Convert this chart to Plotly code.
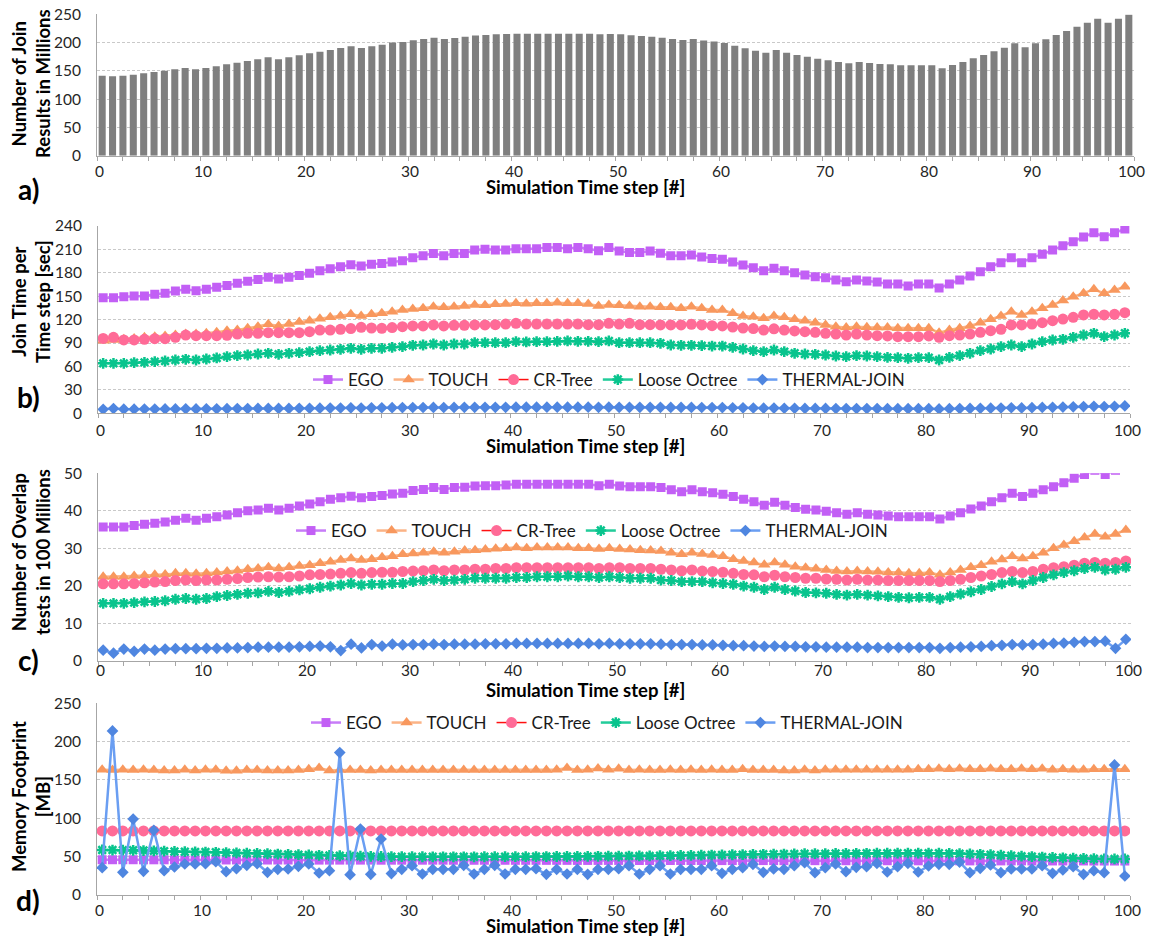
import plotly.graph_objects as go

# ---------------- data ----------------
steps = list(range(1, 101))  # simulation time steps (plotted centred in each unit slot)

join_results = [141.5, 140.3, 141.5, 143.3, 145.6, 148, 150.4, 152.7, 155, 152.7,
                155, 158, 161.6, 164.5, 167.5, 170.4, 174, 170.4, 174, 177.5,
                181, 184, 187, 190.4, 193.4, 190.4, 193.4, 196, 200, 201.2,
                204, 206.4, 208.7, 206.4, 208.1, 210.5, 212.3, 213.4, 214.6, 215.2,
                215.8, 215.8, 215.8, 215.8, 215.8, 215.8, 215.8, 215.8, 214.6, 215.2,
                214.6, 212.9, 211.7, 210.5, 208.7, 206.4, 204.6, 206.4, 203.5, 201.7,
                199.4, 194.6, 189.9, 185.7, 182.2, 186.9, 182.2, 178.1, 175.1, 171.6,
                168.6, 165.7, 163.3, 165.7, 163.9, 162.1, 161.6, 159.8, 159.8, 159.8,
                159.8, 154.5, 160.4, 165.7, 172.2, 178.1, 184.6, 191.0, 198.7, 191.6,
                198.7, 205.8, 213.4, 220.5, 228.1, 235.1, 242.3, 235.1, 242.3, 249.4]

# b) join time per time step [sec]
b_ego = [148.2, 148.2, 149.4, 150.3, 150.3, 152.4, 153.7, 156.7, 158.8, 157.1,
         158.8, 161.4, 163.9, 166.5, 169.1, 171.6, 174.2, 172.1, 174.2, 176.7,
         179.3, 182.7, 185.3, 187.9, 190.4, 188.7, 190.9, 192.1, 193.9, 195.6,
         199.4, 201.9, 204.9, 201.9, 204.9, 204.9, 209.2, 210.1, 209.2, 209.2,
         210.9, 210.9, 210.9, 212.6, 212.6, 210.9, 212.6, 210.9, 208.4, 212.6,
         208.0, 206.2, 206.2, 208.0, 205.0, 202.0, 202.0, 203.0, 200.3, 198.5,
         197.3, 193.9, 190.0, 186.6, 182.5, 185.8, 182.7, 180.2, 177.2, 175.1,
         173.8, 170.8, 168.7, 170.8, 169.5, 168.2, 165.7, 165.7, 163.1, 165.7,
         165.7, 160.5, 165.7, 170.8, 175.9, 181.5, 187.9, 193.0, 199.4, 193.0,
         199.4, 203.7, 209.2, 214.8, 219.9, 225.9, 231.4, 226.3, 231.4, 236.1]
b_touch = [93.0, 94.0, 94.8, 96.0, 97.4, 98.2, 99.0, 100.3, 101.6, 101.6,
           102.5, 103.8, 105.9, 106.7, 108.9, 111.0, 114.0, 111.9, 114.4, 117.0,
           118.7, 121.3, 123.0, 124.7, 126.8, 124.7, 126.8, 128.1, 130.2, 132.4,
           133.7, 134.5, 136.6, 135.8, 136.6, 137.5, 138.8, 138.4, 139.6, 140.1,
           140.9, 140.5, 140.9, 140.9, 141.8, 140.9, 140.9, 140.1, 137.5, 138.8,
           138.4, 137.5, 136.6, 136.6, 135.8, 135.8, 134.5, 136.6, 134.5, 132.4,
           132.4, 128.1, 124.7, 123.8, 121.7, 124.7, 123.0, 120.4, 118.7, 116.1,
           113.2, 111.0, 109.8, 111.0, 110.2, 109.8, 109.8, 108.9, 108.9, 108.9,
           108.9, 103.3, 106.7, 108.9, 111.9, 116.1, 120.4, 124.7, 130.2, 125.9,
           130.2, 134.5, 138.8, 144.4, 149.4, 153.7, 158.8, 153.7, 158.0, 162.3]
b_cr = [96.0, 97.4, 94.0, 94.0, 94.8, 95.6, 95.6, 97.4, 100.3, 99.5,
        99.5, 99.5, 100.0, 101.6, 102.5, 102.5, 103.3, 103.3, 103.3, 103.3,
        104.6, 106.7, 106.7, 107.6, 108.5, 110.2, 109.3, 108.9, 109.8, 111.0,
        111.9, 111.9, 113.2, 111.9, 112.7, 112.7, 113.2, 113.2, 113.6, 114.4,
        115.3, 114.4, 114.4, 114.4, 114.4, 114.4, 114.4, 113.6, 113.6, 115.3,
        114.4, 115.3, 113.6, 113.6, 113.2, 113.2, 113.2, 114.0, 113.2, 112.3,
        111.9, 110.6, 109.3, 108.5, 106.7, 108.2, 106.7, 105.5, 104.6, 103.8,
        102.5, 101.6, 100.3, 101.6, 100.3, 99.5, 99.1, 98.2, 98.2, 98.2,
        99.1, 97.4, 99.5, 100.3, 101.6, 103.8, 105.9, 107.6, 113.2, 113.2,
        114.4, 116.1, 118.7, 120.8, 123.0, 126.0, 126.8, 126.0, 126.8, 128.9]
b_octree = [64.0, 64.0, 64.0, 64.9, 65.3, 66.2, 67.0, 68.3, 69.2, 68.3,
            69.6, 70.9, 72.6, 73.9, 74.7, 76.0, 76.9, 75.6, 76.9, 77.7,
            79.0, 80.3, 81.1, 82.0, 83.3, 82.0, 83.3, 83.3, 84.5, 85.4,
            87.1, 87.5, 88.8, 87.5, 88.8, 88.8, 90.5, 90.5, 90.5, 90.5,
            91.8, 91.4, 91.8, 91.8, 92.2, 92.7, 92.2, 92.2, 91.8, 92.7,
            90.5, 90.5, 90.5, 90.5, 89.7, 87.5, 87.1, 87.1, 86.7, 86.2,
            86.2, 84.5, 82.4, 80.3, 79.0, 81.1, 79.0, 76.9, 76.0, 75.6,
            74.7, 73.4, 72.6, 73.9, 73.4, 72.6, 71.7, 71.3, 70.5, 71.3,
            71.3, 68.3, 71.7, 73.9, 76.9, 80.3, 82.4, 85.4, 87.5, 85.4,
            88.8, 91.8, 93.9, 94.8, 97.4, 100.3, 102.5, 98.2, 100.3, 102.5]
b_thermal = [5.1, 6.0, 5.3, 5.3, 5.5, 5.5, 5.6, 5.6, 5.7, 5.6,
             5.7, 5.8, 5.9, 6.0, 6.1, 6.2, 6.3, 6.2, 6.3, 6.4,
             6.5, 6.6, 6.7, 6.8, 7.0, 6.8, 7.0, 7.1, 7.2, 7.3,
             7.4, 7.4, 7.5, 7.4, 7.5, 7.6, 7.6, 7.7, 7.7, 7.7,
             7.8, 7.8, 7.8, 7.8, 7.8, 7.8, 7.8, 7.8, 7.7, 7.8,
             7.7, 7.7, 7.6, 7.6, 7.6, 7.5, 7.5, 7.5, 7.4, 7.4,
             7.3, 7.1, 7.0, 6.8, 6.6, 6.7, 6.5, 6.4, 6.3, 6.3,
             6.2, 6.1, 6.0, 6.1, 6.0, 6.0, 5.9, 5.9, 5.9, 5.9,
             5.9, 5.6, 5.9, 6.0, 6.2, 6.4, 6.6, 6.8, 7.1, 6.9,
             7.2, 7.5, 7.7, 8.0, 8.3, 8.6, 8.9, 8.7, 9.0, 9.5]

# c) number of overlap tests in 100 millions
c_ego = [35.7, 35.7, 35.7, 36.1, 36.4, 36.7, 37.0, 37.5, 38.0, 37.5,
         38.0, 38.4, 38.9, 39.5, 40.0, 40.2, 40.7, 40.2, 40.7, 41.3,
         41.8, 42.4, 43.1, 43.5, 43.9, 43.5, 43.8, 44.1, 44.5, 44.7,
         45.4, 45.7, 46.2, 45.7, 46.2, 46.3, 46.6, 46.7, 46.7, 46.9,
         47.1, 47.1, 47.1, 47.1, 47.1, 47.1, 47.1, 47.1, 46.7, 47.1,
         46.6, 46.4, 46.4, 46.4, 46.2, 45.6, 45.1, 45.6, 45.1, 44.8,
         44.4, 43.8, 43.1, 42.4, 41.5, 42.3, 41.5, 40.9, 40.4, 40.2,
         39.9, 39.5, 39.1, 39.5, 39.1, 38.9, 38.6, 38.4, 38.4, 38.4,
         38.4, 37.8, 38.6, 39.5, 40.5, 41.3, 42.4, 43.5, 44.7, 43.8,
         44.7, 45.6, 46.4, 47.5, 48.7, 49.7, 50.8, 49.7, 50.8, 51.8]
c_touch = [22.4, 22.4, 22.4, 22.6, 22.7, 22.9, 23.0, 23.3, 23.3, 23.2,
           23.3, 23.5, 23.8, 24.0, 24.4, 24.6, 24.9, 24.6, 24.9, 25.3,
           25.5, 26.0, 26.4, 26.9, 27.3, 26.9, 27.1, 27.6, 27.9, 28.4,
           28.6, 28.8, 29.1, 28.8, 29.1, 29.4, 29.5, 29.7, 29.9, 30.0,
           30.2, 30.0, 30.2, 30.2, 30.2, 30.2, 30.0, 30.0, 29.8, 30.0,
           29.8, 29.7, 29.5, 29.4, 29.3, 28.8, 28.4, 28.8, 28.5, 28.2,
           27.9, 27.1, 26.6, 26.2, 25.6, 26.2, 25.6, 25.1, 24.8, 24.5,
           24.2, 23.9, 23.8, 23.9, 23.8, 23.7, 23.5, 23.5, 23.3, 23.3,
           23.5, 22.9, 23.5, 24.2, 24.9, 25.5, 26.4, 27.0, 27.9, 27.3,
           27.9, 28.8, 30.0, 30.9, 31.9, 32.9, 33.8, 33.1, 33.8, 34.9]
c_cr = [20.5, 20.5, 20.5, 20.6, 20.8, 21.0, 21.1, 21.4, 21.5, 21.4,
        21.5, 21.5, 21.7, 21.9, 22.2, 22.3, 22.4, 22.3, 22.4, 22.6,
        22.9, 23.0, 23.1, 23.3, 23.5, 23.3, 23.5, 23.6, 23.6, 23.8,
        23.9, 24.0, 24.2, 24.0, 24.2, 24.2, 24.4, 24.4, 24.6, 24.6,
        24.8, 24.8, 24.8, 24.8, 24.8, 24.8, 24.8, 24.8, 24.6, 24.8,
        24.8, 24.6, 24.6, 24.6, 24.4, 24.2, 24.0, 24.2, 23.9, 23.8,
        23.6, 23.3, 23.0, 22.9, 22.4, 22.8, 22.4, 22.2, 22.0, 22.0,
        21.8, 21.7, 21.5, 21.7, 21.5, 21.5, 21.4, 21.4, 21.4, 21.4,
        21.4, 21.1, 21.4, 21.7, 22.2, 22.6, 23.0, 23.5, 23.8, 23.5,
        23.8, 24.4, 24.8, 25.1, 25.5, 26.0, 26.2, 26.0, 26.2, 26.6]
c_octree = [15.3, 15.3, 15.3, 15.5, 15.7, 15.8, 16.0, 16.4, 16.6, 16.4,
            16.6, 17.1, 17.4, 17.7, 18.0, 18.1, 18.5, 18.2, 18.5, 18.9,
            19.2, 19.6, 19.9, 20.2, 20.6, 20.2, 20.4, 20.4, 20.6, 20.6,
            21.1, 21.4, 21.7, 21.4, 21.5, 21.7, 22.0, 22.0, 22.0, 22.0,
            22.2, 22.2, 22.4, 22.4, 22.4, 22.6, 22.4, 22.4, 22.2, 22.4,
            22.2, 22.0, 22.0, 22.0, 21.5, 21.4, 21.1, 21.1, 21.1, 20.8,
            20.6, 20.4, 19.9, 19.6, 19.0, 19.6, 19.0, 18.6, 18.2, 18.1,
            18.0, 17.7, 17.5, 17.7, 17.5, 17.3, 17.1, 16.9, 16.8, 16.9,
            16.9, 16.4, 17.1, 17.8, 18.4, 19.0, 19.8, 20.5, 21.1, 20.5,
            21.4, 22.2, 22.9, 23.5, 24.0, 24.6, 24.9, 24.2, 24.4, 24.9]
c_thermal = [2.8, 2.0, 3.1, 2.5, 3.1, 2.8, 3.1, 3.2, 3.2, 3.2,
             3.3, 3.3, 3.4, 3.4, 3.5, 3.6, 3.6, 3.6, 3.6, 3.7,
             3.8, 3.9, 3.7, 2.7, 4.4, 3.4, 4.3, 3.9, 4.4, 4.2,
             4.3, 4.3, 4.4, 4.3, 4.4, 4.4, 4.4, 4.5, 4.5, 4.5,
             4.6, 4.6, 4.6, 4.6, 4.6, 4.6, 4.6, 4.6, 4.5, 4.6,
             4.5, 4.5, 4.5, 4.5, 4.4, 4.3, 4.3, 4.3, 4.2, 4.2,
             4.1, 4.0, 4.0, 3.9, 3.8, 3.9, 3.8, 3.8, 3.7, 3.7,
             3.6, 3.6, 3.6, 3.6, 3.5, 3.5, 3.5, 3.5, 3.5, 3.5,
             3.5, 3.3, 3.5, 3.6, 3.7, 3.8, 4.0, 4.1, 4.3, 4.2,
             4.3, 4.4, 4.6, 4.7, 4.9, 5.1, 5.1, 5.2, 3.3, 5.7]

# d) memory footprint [MB]
d_ego = [46.0, 46.0, 46.0, 46.0, 45.9, 45.9, 45.9, 45.9, 45.8, 45.8,
         45.8, 45.8, 45.7, 45.7, 45.7, 45.7, 45.6, 45.6, 45.6, 45.6,
         45.5, 45.5, 45.5, 45.5, 45.5, 45.5, 45.5, 45.4, 45.4, 45.4,
         45.4, 45.4, 45.4, 45.4, 45.3, 45.3, 45.3, 45.3, 45.3, 45.3,
         45.2, 45.2, 45.2, 45.2, 45.2, 45.2, 45.1, 45.1, 45.1, 45.1,
         45.1, 45.1, 45.0, 45.0, 45.0, 45.0, 45.0, 45.0, 45.0, 45.0,
         44.9, 44.9, 44.9, 44.9, 44.9, 44.9, 44.8, 44.8, 44.8, 44.8,
         44.8, 44.8, 44.7, 44.7, 44.7, 44.7, 44.7, 44.7, 44.6, 44.6,
         44.6, 44.6, 44.6, 44.6, 44.5, 44.5, 44.5, 44.5, 44.5, 44.5,
         44.4, 44.4, 44.4, 44.4, 44.4, 44.4, 44.3, 44.3, 44.3, 44.3]
d_touch = [163.5, 163.0, 163.5, 163.0, 163.5, 163.0, 162.5, 162.5, 163.5, 162.5,
           163.5, 163.5, 162.0, 162.0, 163.0, 163.0, 162.5, 162.5, 162.5, 163.0,
           164.0, 165.5, 162.5, 163.0, 163.0, 163.0, 162.5, 163.0, 163.0, 163.0,
           163.0, 163.0, 163.0, 163.0, 163.0, 163.0, 163.0, 163.0, 163.0, 163.0,
           163.0, 163.0, 163.0, 163.0, 163.5, 165.5, 163.0, 163.5, 165.0, 163.5,
           164.5, 163.0, 163.5, 163.0, 163.0, 163.5, 163.0, 163.5, 163.0, 163.5,
           163.0, 163.0, 164.0, 163.0, 163.0, 163.0, 162.5, 162.5, 163.5, 162.5,
           163.5, 163.5, 163.5, 163.5, 163.5, 163.5, 163.5, 163.5, 163.5, 164.0,
           164.0, 164.5, 164.0, 164.5, 164.0, 164.0, 164.5, 164.0, 164.0, 164.5,
           164.0, 164.5, 163.5, 164.0, 163.5, 163.5, 164.0, 164.0, 164.0, 164.0]
d_cr = [83.5, 83.5, 83.5, 83.5, 83.5, 83.5, 83.5, 83.5, 83.5, 83.5,
        83.5, 83.5, 83.5, 83.5, 83.5, 83.5, 83.5, 83.5, 83.5, 83.5,
        83.5, 83.5, 83.5, 83.5, 83.5, 83.5, 83.5, 83.5, 83.5, 83.5,
        83.5, 83.5, 83.5, 83.5, 83.5, 83.5, 83.5, 83.5, 83.5, 83.5,
        83.5, 83.5, 83.5, 83.5, 83.5, 83.5, 83.5, 83.5, 83.5, 83.5,
        83.5, 83.5, 83.5, 83.5, 83.5, 83.5, 83.5, 83.5, 83.5, 83.5,
        83.5, 83.5, 83.5, 83.5, 83.5, 83.5, 83.5, 83.5, 83.5, 83.5,
        83.5, 83.5, 83.5, 83.5, 83.5, 83.5, 83.5, 83.5, 83.5, 83.5,
        83.5, 83.5, 83.5, 83.5, 83.5, 83.5, 83.5, 83.5, 83.5, 83.5,
        83.5, 83.5, 83.5, 83.5, 83.5, 83.5, 83.5, 83.5, 83.5, 83.5]
d_octree = [58.7, 58.6, 58.5, 58.3, 58.0, 57.6, 57.2, 56.8, 56.5, 56.2,
            56.0, 55.7, 55.3, 54.9, 54.5, 54.2, 53.8, 53.4, 53.0, 52.6,
            52.2, 51.8, 51.5, 51.2, 50.9, 50.6, 50.4, 50.2, 50.0, 50.0,
            49.9, 49.9, 49.8, 49.8, 49.8, 49.8, 49.8, 49.9, 49.9, 50.0,
            50.0, 50.0, 50.1, 50.1, 50.2, 50.2, 50.3, 50.4, 50.5, 50.6,
            50.7, 50.8, 50.9, 51.0, 51.2, 51.3, 51.5, 51.7, 51.9, 52.1,
            52.3, 52.5, 52.7, 52.9, 53.1, 53.3, 53.4, 53.6, 53.8, 53.9,
            54.0, 54.1, 54.2, 54.3, 54.4, 54.5, 54.5, 54.6, 54.6, 54.6,
            54.6, 54.5, 54.3, 54.0, 53.6, 53.1, 52.5, 51.9, 51.3, 50.7,
            50.1, 49.5, 49.0, 48.5, 48.0, 47.6, 47.3, 47.1, 47.0, 47.0]
d_thermal = [35.7, 214.0, 29.6, 99.0, 30.9, 84.3, 31.7, 36.5, 40.4, 40.4,
             40.9, 43.5, 30.4, 34.3, 38.7, 40.9, 29.6, 33.5, 33.9, 37.4,
             40.4, 28.7, 31.7, 185.7, 26.5, 86.1, 27.0, 73.0, 28.0, 33.5,
             38.3, 27.4, 33.5, 33.5, 33.5, 38.7, 27.4, 33.5, 38.7, 27.4,
             33.5, 33.5, 34.3, 27.0, 33.5, 27.4, 33.5, 27.0, 33.5, 33.5,
             34.3, 38.3, 27.4, 33.5, 38.3, 27.4, 33.5, 33.5, 33.5, 38.3,
             28.3, 33.5, 35.7, 40.0, 29.6, 34.0, 33.5, 38.3, 42.2, 29.1,
             35.7, 40.4, 30.4, 36.1, 37.0, 41.3, 30.0, 37.0, 41.3, 30.0,
             37.8, 40.0, 40.0, 43.0, 29.1, 34.8, 39.1, 29.1, 33.9, 33.9,
             33.9, 38.3, 28.3, 32.6, 37.0, 27.0, 31.7, 29.1, 169.6, 24.8]

series_names = ["EGO", "TOUCH", "CR-Tree", "Loose Octree", "THERMAL-JOIN"]
x_tick_vals = [0, 10, 20, 30, 40, 50, 60, 70, 80, 90, 100]

# ---------------- styles ----------------
FONT = "Lato"
W, H = 1152, 939
x_pos = [s - 0.5 for s in steps]

styles = {
    "EGO": dict(line=dict(color="#c77cf8", width=2.5),
                marker=dict(symbol="square", size=9, color="#c25ff5")),
    "TOUCH": dict(line=dict(color="#fbb386", width=2.5),
                  marker=dict(symbol="triangle-up", size=11, color="#f8985e")),
    "CR-Tree": dict(line=dict(color="#ff1010", width=1.5),
                    marker=dict(symbol="circle", size=11, color="#ff6b97")),
    "Loose Octree": dict(line=dict(color="#22cc9a", width=2.5),
                         marker=dict(symbol="asterisk", size=9, color="#08c48d",
                                     line=dict(color="#08c48d", width=2.5))),
    "THERMAL-JOIN": dict(line=dict(color="#6a9ef2", width=2.5),
                         marker=dict(symbol="diamond", size=9, color="#4f86e0")),
}


def px2fx(p):
    return p / W


def py2fy(p):
    return 1 - p / H


panels = {
    # name: (x0px, x1px, ytop_px, ybot_px)
    "a": (97, 1134, 14.3, 155.7),
    "b": (98, 1130, 226, 413.3),
    "c": (98, 1131, 473.3, 660.7),
    "d": (97, 1130, 703.3, 895),
}

fig = go.Figure()

# a) bars
fig.add_trace(go.Bar(x=x_pos, y=join_results, marker=dict(color="#7f7f7f", line=dict(width=0)),
                     width=0.68, xaxis="x", yaxis="y", showlegend=False))

panel_data = [
    ("2", "legend", [b_ego, b_touch, b_cr, b_octree, b_thermal]),
    ("3", "legend2", [c_ego, c_touch, c_cr, c_octree, c_thermal]),
    ("4", "legend3", [d_ego, d_touch, d_cr, d_octree, d_thermal]),
]
for ax, leg, vals in panel_data:
    for name, yv in zip(series_names, vals):
        st = styles[name]
        fig.add_trace(go.Scatter(x=x_pos, y=yv, mode="lines+markers", name=name,
                                 line=st["line"], marker=st["marker"],
                                 xaxis="x" + ax, yaxis="y" + ax, legend=leg))

tickfont = dict(family=FONT, size=15.5, color="#262626")
axis_line = "#a6a6a6"


def xaxis_cfg(key):
    x0, x1, yt, yb = panels[key]
    return dict(domain=[px2fx(x0), px2fx(x1)], range=[0, 100], showgrid=False, zeroline=False,
                showline=True, linecolor=axis_line, linewidth=1, automargin=False,
                tickmode="array", tickvals=x_tick_vals, ticks="outside", ticklen=4,
                tickcolor=axis_line, showticklabels=False,
                minor=dict(dtick=2.5, tick0=0, ticks="outside", ticklen=4, tickcolor=axis_line,
                           showgrid=False),
                fixedrange=True)


def yaxis_cfg(key, anchor, rng, dtick):
    x0, x1, yt, yb = panels[key]
    return dict(domain=[py2fy(yb), py2fy(yt)], range=rng, dtick=dtick, anchor=anchor,
                showgrid=True, gridcolor="#c9c9c9", gridwidth=1, griddash="3px,2px",
                zeroline=False, showline=True, linecolor=axis_line, linewidth=1, automargin=False,
                ticks="", ticklabelstandoff=12, tickfont=tickfont, fixedrange=True)


legend_common = dict(orientation="h", bgcolor="rgba(0,0,0,0)", xanchor="center", yanchor="middle",
                     font=dict(family=FONT, size=17, color="#1a1a1a"), itemwidth=30,
                     tracegroupgap=0, itemclick=False)

fig.update_layout(
    width=W, height=H, margin=dict(l=0, r=0, t=0, b=0, autoexpand=False),
    paper_bgcolor="white", plot_bgcolor="white",
    bargap=0.3,
    xaxis=dict(xaxis_cfg("a"), anchor="y"),
    yaxis=yaxis_cfg("a", "x", [0, 250], 50),
    xaxis2=dict(xaxis_cfg("b"), anchor="y2"),
    yaxis2=yaxis_cfg("b", "x2", [0, 240], 30),
    xaxis3=dict(xaxis_cfg("c"), anchor="y3"),
    yaxis3=yaxis_cfg("c", "x3", [0, 50], 10),
    xaxis4=dict(xaxis_cfg("d"), anchor="y4"),
    yaxis4=yaxis_cfg("d", "x4", [0, 250], 50),
    legend=dict(legend_common, x=px2fx(609), y=py2fy(380)),
    legend2=dict(legend_common, x=px2fx(592), y=py2fy(531)),
    legend3=dict(legend_common, x=px2fx(607), y=py2fy(723)),
)

title_font = dict(family=FONT, size=18.5, color="#000000")
annotations = []
# x tick labels placed as in the original (tight under each axis)
for xref, ylab in [("x", 171), ("x2", 430), ("x3", 670), ("x4", 910)]:
    for v in x_tick_vals:
        annotations.append(dict(text=str(v), x=v, xref=xref, y=py2fy(ylab), yref="paper",
                                showarrow=False, font=tickfont, xanchor="center", yanchor="middle",
                                xshift=2 if v < 100 else -3))
for yc in [187, 446, 690, 926]:
    annotations.append(dict(text="<b>Simulation Time step [#]</b>", x=px2fx(585), y=py2fy(yc),
                            xref="paper", yref="paper", showarrow=False, font=title_font,
                            xanchor="center", yanchor="middle"))
ytitles = [("Number of Join<br>Results in Millions", 84),
           ("Join Time per<br>Time step [sec]", 302),
           ("Number of Overlap<br>tests in 100 Millions", 552),
           ("Memory Footprint<br>[MB]", 797)]
for txt, yc in ytitles:
    annotations.append(dict(text="<b>" + txt + "</b>", x=px2fx(31), y=py2fy(yc), xref="paper",
                            yref="paper", showarrow=False, textangle=-90, font=title_font,
                            xanchor="center", yanchor="middle"))
for lab, yc in [("a)", 189), ("b)", 397), ("c)", 660), ("d)", 900)]:
    annotations.append(dict(text="<b>" + lab + "</b>", x=px2fx(28), y=py2fy(yc), xref="paper",
                            yref="paper", showarrow=False, font=dict(family=FONT, size=28, color="#000"),
                            xanchor="center", yanchor="middle"))
fig.update_layout(annotations=annotations)

fig.write_html("out.html", config={"displayModeBar": False},
               post_script="document.body.style.margin='0';document.body.style.overflow='hidden';")
